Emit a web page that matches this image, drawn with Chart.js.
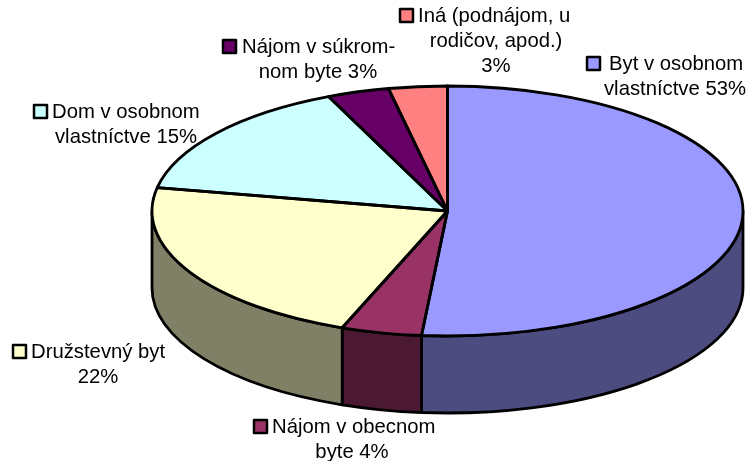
<!DOCTYPE html>
<html>
<head>
<meta charset="utf-8">
<style>html,body{margin:0;padding:0;background:#fff}canvas{display:block}</style>
<script src="https://cdn.jsdelivr.net/npm/chart.js@4"></script>
</head>
<body>
<canvas id="c" width="748" height="461"></canvas>
<script>
const categories = [
  ["Byt v osobnom", "vlastníctve 53%"],
  ["Nájom v obecnom", "byte 4%"],
  ["Družstevný byt", "22%"],
  ["Dom v osobnom", "vlastníctve 15%"],
  ["Nájom v súkrom-", "nom byte 3%"],
  ["Iná (podnájom, u", "rodičov, apod.)", "3%"]
];
const sliceShares = [51.4, 4.4, 22.2, 15.4, 3.4, 3.2];
const topColors = ["#9999FF", "#993366", "#FFFFCC", "#CCFFFF", "#660066", "#FF8080"];
const sideColors = ["#4C4C80", "#4C1933", "#808066", "#668080", "#330033", "#804040"];

const RX = 295.5, RY = 125, DEPTH = 77, LINE = 2.8;
// first-line text x, swatch x, first baseline, centre x of the following lines
const labelLayout = [
  {sw: 586, x: 609, y: 70,  cx: 675},
  {sw: 253, x: 272, y: 433, cx: 352},
  {sw: 12,  x: 31,  y: 358, cx: 98},
  {sw: 33,  x: 52,  y: 118, cx: 126},
  {sw: 222, x: 242, y: 53,  cx: 318},
  {sw: 399, x: 418, y: 22,  cx: 496}
];

function ellipseBand(ctx, cx, cy, a0, a1) {
  ctx.beginPath();
  ctx.ellipse(cx, cy, RX, RY, 0, a0, a1, false);
  ctx.ellipse(cx, cy + DEPTH, RX, RY, 0, a1, a0, true);
  ctx.closePath();
}

const pie3d = {
  id: 'pie3d',
  beforeDatasetsDraw(chart) {
    const ctx = chart.ctx, arcs = chart.getDatasetMeta(0).data;
    const cx = arcs[0].x, cy = arcs[0].y;
    ctx.save();
    ctx.lineWidth = LINE; ctx.strokeStyle = '#000'; ctx.lineJoin = 'round';
    arcs.forEach((el, i) => {
      // normalise to canvas angles, keep the front half only
      for (const turn of [0, 2 * Math.PI]) {
        const a0 = Math.max(el.startAngle + turn, 0);
        const a1 = Math.min(el.endAngle + turn, Math.PI);
        if (a1 > a0) {
          ellipseBand(ctx, cx, cy, a0, a1);
          ctx.fillStyle = sideColors[i];
          ctx.fill();
          ctx.stroke();
        }
      }
    });
    ctx.restore();
    ctx.save();
    ctx.translate(cx, cy);
    ctx.scale(1, RY / RX);
    ctx.translate(-cx, -cy);
  },
  afterDatasetsDraw(chart) {
    const ctx = chart.ctx, arcs = chart.getDatasetMeta(0).data;
    ctx.restore();
    const cx = arcs[0].x, cy = arcs[0].y;
    ctx.save();
    ctx.lineWidth = LINE; ctx.strokeStyle = '#000'; ctx.lineJoin = 'round';
    arcs.forEach(el => {
      ctx.beginPath();
      ctx.moveTo(cx, cy);
      ctx.ellipse(cx, cy, RX, RY, 0, el.startAngle, el.endAngle, false);
      ctx.closePath();
      ctx.stroke();
    });
    ctx.font = '20.3px "Liberation Sans", Arial, sans-serif';
    ctx.textBaseline = 'alphabetic';
    categories.forEach((lines, i) => {
      const p = labelLayout[i];
      ctx.fillStyle = topColors[i];
      ctx.strokeStyle = '#000';
      ctx.lineWidth = 2.5;
      ctx.fillRect(p.sw + 1, p.y - 13, 13, 13);
      ctx.strokeRect(p.sw + 1, p.y - 13, 13, 13);
      ctx.fillStyle = '#000';
      lines.forEach((t, k) => {
        ctx.textAlign = k === 0 ? 'left' : 'center';
        ctx.fillText(t, k === 0 ? p.x : p.cx, p.y + k * 25);
      });
    });
    ctx.restore();
  }
};

new Chart(document.getElementById('c'), {
  type: 'pie',
  data: {
    labels: categories.map(l => l.join(' ')),
    datasets: [{
      data: sliceShares,
      backgroundColor: topColors,
      borderWidth: 0,
      clip: false
    }]
  },
  options: {
    responsive: false,
    animation: false,
    radius: RX,
    layout: {padding: {left: 147, right: 0, top: 0, bottom: 39}},
    events: [],
    plugins: {legend: {display: false}, tooltip: {enabled: false}, title: {display: false}}
  },
  plugins: [pie3d]
});
</script>
</body>
</html>
